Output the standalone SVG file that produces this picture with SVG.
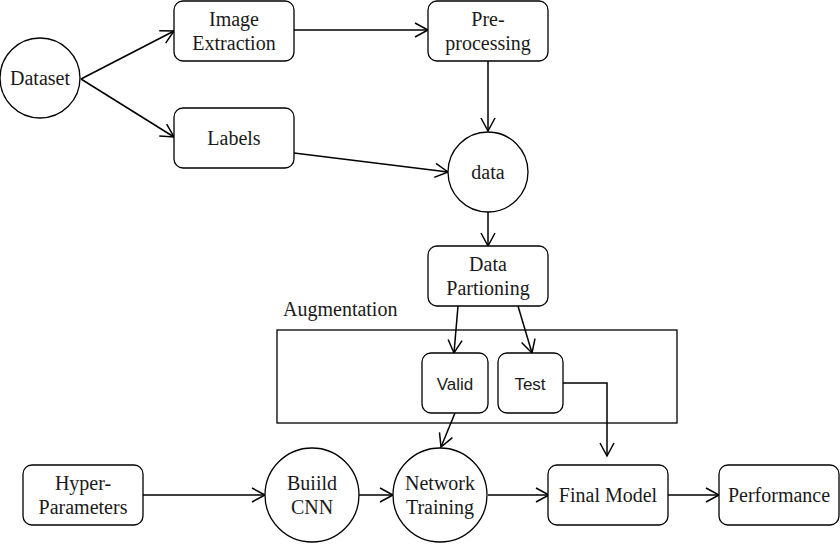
<svg xmlns="http://www.w3.org/2000/svg" width="840" height="545" viewBox="0 0 840 545">
<style>
.shape{fill:#fff;stroke:#000;stroke-width:1.3}
.t{font-family:'Liberation Serif','Times New Roman',Tinos,'DejaVu Serif',serif;font-size:20px;fill:#1a1a1a;text-anchor:middle}
.h{font-family:'Liberation Sans',Arial,sans-serif;font-size:17px;fill:#1a1a1a;text-anchor:middle}
.c{fill:none;stroke:#000;stroke-width:1.5}
</style>
<defs>
<marker id="arr" markerUnits="userSpaceOnUse" markerWidth="16" markerHeight="16" refX="13" refY="7" orient="auto" overflow="visible">
<path d="M0,0 L13,7 L0,14" fill="none" stroke="#000" stroke-width="1.5"/>
</marker>
</defs>
<rect width="840" height="545" fill="#fff"/>
<g id="augmentation">
<rect x="277" y="330" width="400" height="93" fill="none" stroke="#000" stroke-width="1.3"/>
<text x="283" y="316" class="t" font-family="Liberation Serif, serif" style="text-anchor:start">Augmentation</text>
</g>
<g id="connectors">
<path class="c" marker-end="url(#arr)" d="M81,79 L174,31"/>
<path class="c" marker-end="url(#arr)" d="M81,79 L174,137"/>
<path class="c" marker-end="url(#arr)" d="M294,30 L428,30"/>
<path class="c" marker-end="url(#arr)" d="M488,61 L488,131"/>
<path class="c" marker-end="url(#arr)" d="M294,153 L448,172"/>
<path class="c" marker-end="url(#arr)" d="M488,212 L488,246"/>
<path class="c" marker-end="url(#arr)" d="M458,306 L454,353"/>
<path class="c" marker-end="url(#arr)" d="M518,306 L532,353"/>
<path class="c" marker-end="url(#arr)" d="M563,383 L607,383 L607,456"/>
<path class="c" marker-end="url(#arr)" d="M455,413 L441,447"/>
<path class="c" marker-end="url(#arr)" d="M143,495 L265,495"/>
<path class="c" marker-end="url(#arr)" d="M359,495 L393,495"/>
<path class="c" marker-end="url(#arr)" d="M488,495 L549,495"/>
<path class="c" marker-end="url(#arr)" d="M668,495 L719,495"/>
</g>
<g id="dataset">
<circle class="shape" cx="40" cy="78" r="40"/>
<text x="40" y="85" class="t">Dataset</text>
</g>
<g id="image-extraction">
<rect class="shape" x="174" y="1" width="120" height="60" rx="9"/>
<text x="234" y="26" class="t">Image</text>
<text x="234" y="50" class="t">Extraction</text>
</g>
<g id="labels">
<rect class="shape" x="174" y="108" width="120" height="60" rx="9"/>
<text x="234" y="145" class="t">Labels</text>
</g>
<g id="pre-processing">
<rect class="shape" x="428" y="1" width="120" height="60" rx="9"/>
<text x="488" y="26" class="t">Pre-</text>
<text x="488" y="50" class="t">processing</text>
</g>
<g id="data">
<circle class="shape" cx="488" cy="172" r="40"/>
<text x="488" y="179" class="t">data</text>
</g>
<g id="data-partioning">
<rect class="shape" x="428" y="246" width="120" height="60" rx="9"/>
<text x="488" y="271" class="t">Data</text>
<text x="488" y="295" class="t">Partioning</text>
</g>
<g id="valid">
<rect class="shape" x="422" y="353" width="66" height="60" rx="9"/>
<text x="455" y="390" class="h">Valid</text>
</g>
<g id="test">
<rect class="shape" x="498" y="353" width="65" height="60" rx="9"/>
<text x="530" y="390" class="h">Test</text>
</g>
<g id="hyper-parameters">
<rect class="shape" x="23" y="465" width="120" height="60" rx="9"/>
<text x="83" y="490" class="t">Hyper-</text>
<text x="83" y="514" class="t">Parameters</text>
</g>
<g id="build-cnn">
<circle class="shape" cx="312" cy="495" r="47"/>
<text x="312" y="490" class="t">Buiild</text>
<text x="312" y="514" class="t">CNN</text>
</g>
<g id="network-training">
<circle class="shape" cx="440" cy="495" r="47"/>
<text x="440" y="490" class="t">Network</text>
<text x="440" y="514" class="t">Training</text>
</g>
<g id="final-model">
<rect class="shape" x="548" y="465" width="120" height="60" rx="9"/>
<text x="608" y="502" class="t">Final Model</text>
</g>
<g id="performance">
<rect class="shape" x="719" y="465" width="120" height="60" rx="9"/>
<text x="779" y="502" class="t">Performance</text>
</g>
</svg>
